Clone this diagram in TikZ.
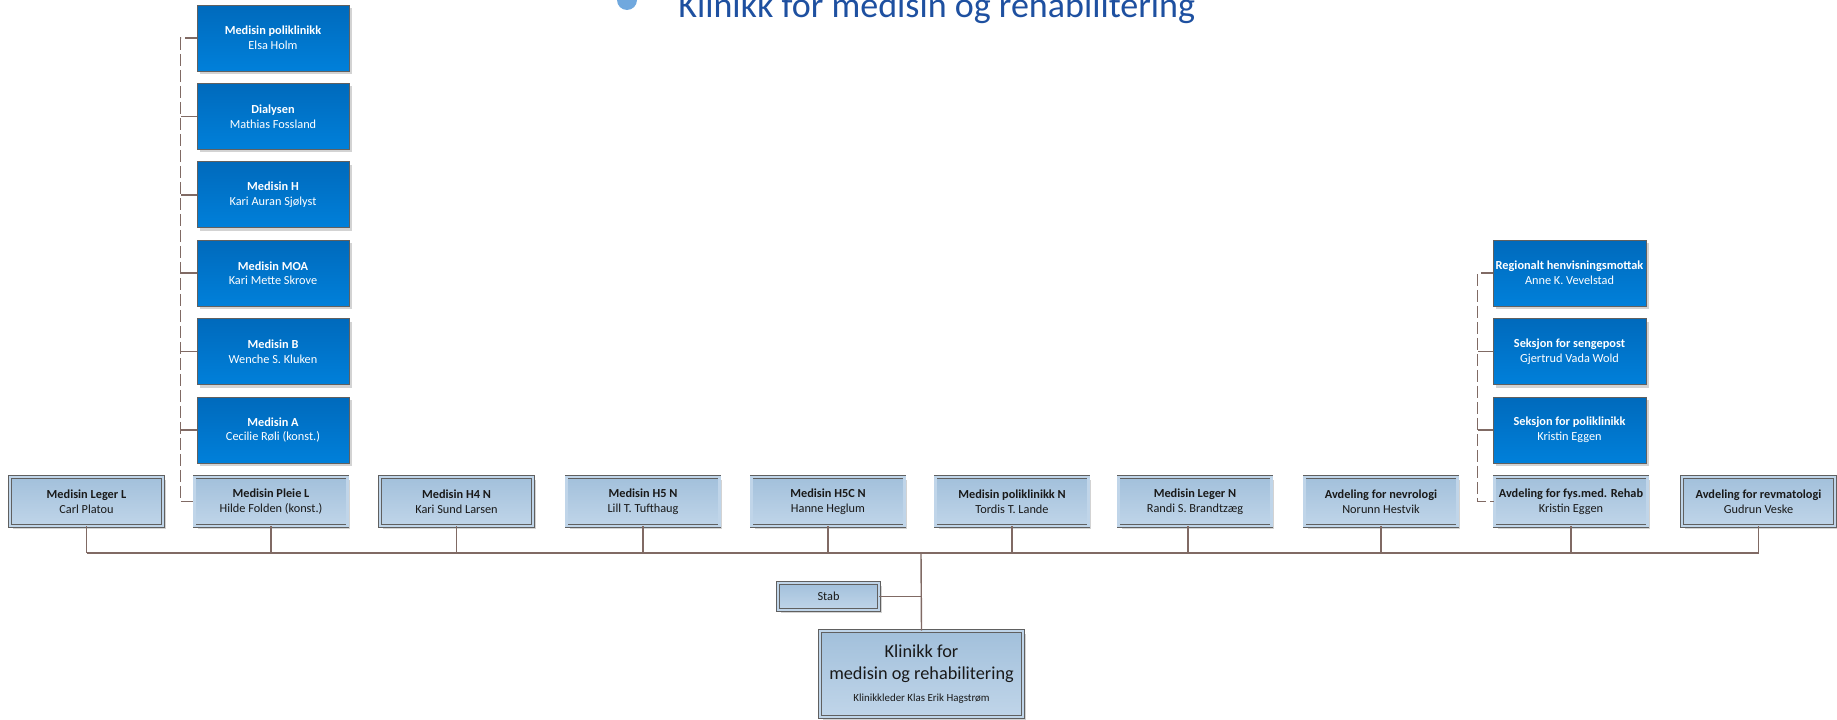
\documentclass[tikz,border=0pt]{standalone}
\usepackage{fontspec}
\setmainfont{Carlito}
\usepackage{xcolor}
\usepackage{tikz}
\usetikzlibrary{shadows,calc,positioning}

\definecolor{lighttop}{RGB}{162,192,219}
\definecolor{lightbot}{RGB}{192,213,233}
\definecolor{bluetop}{RGB}{0,106,188}
\definecolor{bluebot}{RGB}{0,128,218}
\definecolor{edgegray}{RGB}{96,96,96}
\definecolor{linebrown}{RGB}{128,106,100}
\definecolor{titleblue}{RGB}{30,80,160}
\definecolor{dotblue}{RGB}{112,168,222}

\begin{document}
\begin{tikzpicture}[x=0.02cm,y=-0.02cm,
  unit/.style={draw=edgegray, line width=0.5pt, double=lightbot, double distance=1.2pt,
    top color=lighttop, bottom color=lightbot, text=black!90,
    minimum width=3.06cm, minimum height=0.98cm, inner sep=0pt, align=center,
    font=\fontsize{7}{8.4}\selectfont,
    drop shadow={shadow xshift=0.06cm, shadow yshift=-0.06cm, opacity=.35}},
  section/.style={draw=edgegray, line width=0.5pt, top color=bluetop, bottom color=bluebot,
    text=white, minimum width=3.04cm, minimum height=1.32cm, inner sep=0pt, align=center,
    font=\fontsize{7}{8.4}\selectfont,
    drop shadow={shadow xshift=0.06cm, shadow yshift=-0.06cm, opacity=.35}},
  conn/.style={draw=linebrown, line width=0.8pt},
  dashconn/.style={conn, dash pattern=on 0.24cm off 0.08cm}]

  \useasboundingbox (0,0) rectangle (1837,720);

  % title, cut at the top edge
  \fill[dotblue] (627,0) circle[radius=0.2cm];
  \node[anchor=base west, inner sep=0pt, text=titleblue, font=\fontsize{20.5}{24}\selectfont]
    (title) at (678,17) {Klinikk for medisin og rehabilitering};

  % sections under Medisin Pleie L
  \node[section] (medPol) at (273,38) {\textbf{Medisin poliklinikk}\\Elsa Holm};
  \node[section] (dial) at (273,116.4) {\textbf{Dialysen}\\Mathias Fossland};
  \node[section] (medH) at (273,194.8) {\textbf{Medisin H}\\Kari Auran Sjølyst};
  \node[section] (medMOA) at (273,273.2) {\textbf{Medisin MOA}\\Kari Mette Skrove};
  \node[section] (medB) at (273,351.6) {\textbf{Medisin B}\\Wenche S. Kluken};
  \node[section] (medA) at (273,430) {\textbf{Medisin A}\\Cecilie Røli (konst.)};

  % sections under fys.med. Rehab
  \node[section, minimum width=3.06cm] (regional) at (1569.5,273) {\textbf{Regionalt henvisningsmottak}\\Anne K. Vevelstad};
  \node[section, minimum width=3.06cm] (seksSeng) at (1569.5,351.6) {\textbf{Seksjon for sengepost}\\Gjertrud Vada Wold};
  \node[section, minimum width=3.06cm] (seksPol) at (1569.5,430) {\textbf{Seksjon for poliklinikk}\\Kristin Eggen};

  % departments
  \node[unit] (legerL) at (86.5,501.5) {\textbf{Medisin Leger L}\\Carl Platou};
  \node[unit] (pleieL) at (271,501.5) {\textbf{Medisin Pleie L}\\Hilde Folden (konst.)};
  \node[unit] (h4N) at (456.5,501.5) {\textbf{Medisin H4 N}\\Kari Sund Larsen};
  \node[unit] (h5N) at (643,501.5) {\textbf{Medisin H5 N}\\Lill T. Tufthaug};
  \node[unit] (h5cN) at (828,501.5) {\textbf{Medisin H5C N}\\Hanne Heglum};
  \node[unit] (polN) at (1012,501.5) {\textbf{Medisin poliklinikk N}\\Tordis T. Lande};
  \node[unit] (legerN) at (1195,501.5) {\textbf{Medisin Leger N}\\Randi S. Brandtzæg};
  \node[unit] (nevro) at (1381,501.5) {\textbf{Avdeling for nevrologi}\\Norunn Hestvik};
  \node[unit] (fysmed) at (1571,501.5) {\textbf{Avdeling for fys.med. Rehab}\\Kristin Eggen};
  \node[unit] (revma) at (1758.5,501.5) {\textbf{Avdeling for revmatologi}\\Gudrun Veske};

  % staff and clinic head
  \node[unit, minimum width=2.02cm, minimum height=0.54cm] (stab) at (828.5,596.5) {Stab};
  \node[unit, minimum width=4.06cm, minimum height=1.72cm, font=\fontsize{10.4}{12.5}\selectfont]
    (klinikk) at (921.5,674) {Klinikk for\\medisin og rehabilitering\\{\fontsize{6.2}{7}\selectfont Klinikkleder Klas Erik Hagstrøm}};

  \coordinate (bus) at (921,553);

  % main lines
  \draw[conn] (legerL.south |- bus) -- (revma.south |- bus);
  \draw[conn] (legerL.south) -- (legerL.south |- bus)
    (pleieL.south) -- (pleieL.south |- bus)
    (h4N.south) -- (h4N.south |- bus)
    (h5N.south) -- (h5N.south |- bus)
    (h5cN.south) -- (h5cN.south |- bus)
    (polN.south) -- (polN.south |- bus)
    ([xshift=-0.14cm]legerN.south) -- ([xshift=-0.14cm]legerN.south |- bus)
    (nevro.south) -- (nevro.south |- bus)
    (fysmed.south) -- (fysmed.south |- bus)
    (revma.south) -- (revma.south |- bus);
  \draw[conn] (bus) -- (klinikk.north);
  \draw[conn] (stab.east) -- (stab.east -| bus);

  % dashed lines to sections
  \draw[dashconn] (medPol.west) -- ++(-16,0) |- (pleieL.west);
  \draw[conn] (dial.west) -- ++(-16,0) (medH.west) -- ++(-16,0) (medMOA.west) -- ++(-16,0)
    (medB.west) -- ++(-16,0) (medA.west) -- ++(-16,0);
  \draw[dashconn] (regional.west) -- ++(-15,0) |- (fysmed.west);
  \draw[conn] (seksSeng.west) -- ++(-15,0) (seksPol.west) -- ++(-15,0);
\end{tikzpicture}
\end{document}
